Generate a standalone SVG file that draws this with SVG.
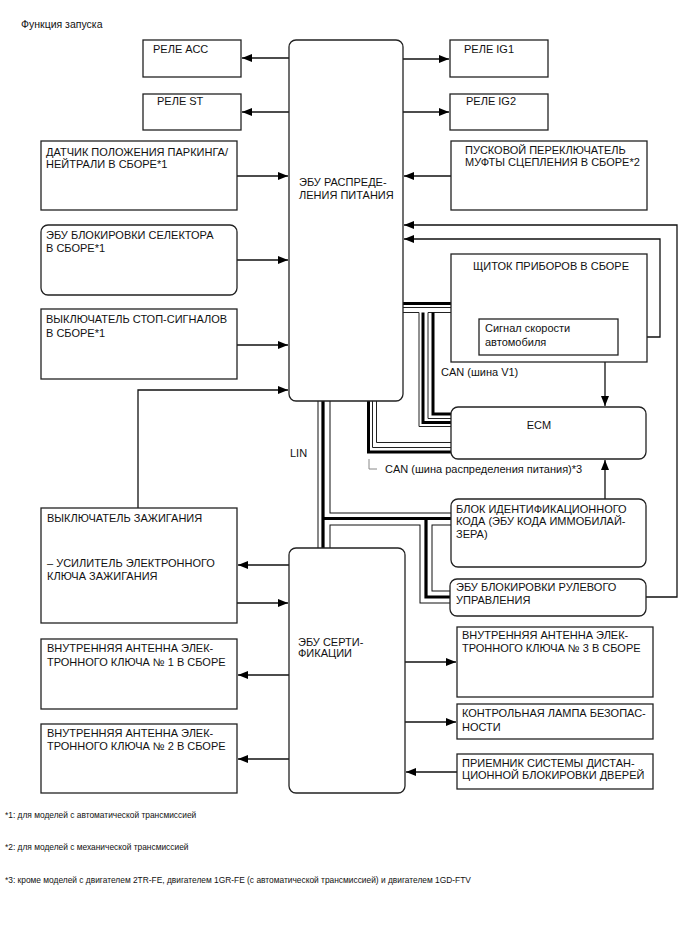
<svg xmlns="http://www.w3.org/2000/svg" width="688" height="949" viewBox="0 0 688 949">
<defs>
<style>
.bg{fill:#fff}
.box{fill:#fff;stroke:#222;stroke-width:1.3}
.t{font-family:"Liberation Sans",Arial,sans-serif;font-size:11px;fill:#111}
.h{font-family:"Liberation Sans",Arial,sans-serif;font-size:10.5px;fill:#111}
.s{font-family:"Liberation Sans",Arial,sans-serif;font-size:8.4px;fill:#111}
.w{fill:none;stroke:#111;stroke-width:1.3}
.bo{fill:none;stroke:#111;stroke-width:13}
.bw{fill:none;stroke:#fff;stroke-width:11}
.bc{fill:none;stroke:#000;stroke-width:3.2}
.tk{fill:none;stroke:#000;stroke-width:3}
.tn{fill:none;stroke:#222;stroke-width:1}
.ld{fill:none;stroke:#888;stroke-width:1}
</style>
<marker id="ah" viewBox="0 0 10 8" refX="10" refY="4" markerWidth="10" markerHeight="8" markerUnits="userSpaceOnUse" orient="auto"><path d="M0,0 L10,4 L0,8 z" fill="#000"/></marker>
</defs>
<rect class="bg" x="0" y="0" width="688" height="949"/>
<text class="h" x="21" y="28">Функция запуска</text>

<g id="connectors">
<g id="lin-bus">
<path class="bo" d="M324,395 V555 M324,519 H460 M426,519 V597 H460"/>
<path class="bw" d="M324,395 V555 M324,519 H460 M426,519 V597 H460"/>
<path class="bc" d="M323,395 V555 M323,518.5 H460 M426,518.5 V597 H460"/>
</g>
<g id="can-v1">
<path class="tk" d="M395,303.5 H460"/>
<path class="tn" d="M395,307.5 H460"/>
<path class="tn" d="M395,312.5 H419 V426.5 H460"/>
<path class="tn" d="M460,312.5 H428 V418.5 H460"/>
<path class="tk" d="M423,312.5 V422.5 H460"/>
<path class="tk" d="M433,312.5 V414 H460"/>
</g>
<g id="can-pd">
<path class="tk" d="M368.5,395 V452 H460"/>
<path class="tn" d="M372.5,395 V447.5 H460"/>
<path class="tn" d="M376.5,395 V442.5 H460"/>
</g>
<path class="ld" d="M369,459 V469 H377"/>
<g marker-end="url(#ah)">
<path class="w" d="M289,58 H242"/>
<path class="w" d="M289,112 H242"/>
<path class="w" d="M237,176 H288"/>
<path class="w" d="M237,260 H288"/>
<path class="w" d="M237,345 H288"/>
<path class="w" d="M138,508 V390 H288"/>
<path class="w" d="M403,59 H449"/>
<path class="w" d="M403,112 H449"/>
<path class="w" d="M451,176 H404"/>
<path class="w" d="M646,597 H677 V225 H404"/>
<path class="w" d="M618,337 H660 V239 H404"/>
<path class="w" d="M605,355 V406"/>
<path class="w" d="M605,499 V460"/>
<path class="w" d="M289,565 H238"/>
<path class="w" d="M237,603 H288"/>
<path class="w" d="M289,675 H238"/>
<path class="w" d="M289,759 H238"/>
<path class="w" d="M405,662 H456"/>
<path class="w" d="M405,722 H456"/>
<path class="w" d="M457,772 H406"/>
</g>
</g>

<g id="ecu-power">
<rect class="box" x="289" y="40" width="114" height="361" rx="7"/>
<text class="t" x="299" y="186">ЭБУ РАСПРЕДЕ-</text>
<text class="t" x="299" y="199">ЛЕНИЯ ПИТАНИЯ</text>
</g>
<g id="relay-acc">
<rect class="box" x="143" y="40" width="98" height="37"/>
<text class="t" x="153" y="53">РЕЛЕ АСС</text>
</g>
<g id="relay-st">
<rect class="box" x="143" y="94" width="98" height="36"/>
<text class="t" x="157" y="105">РЕЛЕ ST</text>
</g>
<g id="pn-sensor">
<rect class="box" x="41" y="141" width="196" height="69"/>
<text class="t" x="46" y="156">ДАТЧИК ПОЛОЖЕНИЯ ПАРКИНГА/</text>
<text class="t" x="46" y="168">НЕЙТРАЛИ В СБОРЕ*1</text>
</g>
<g id="shift-lock">
<rect class="box" x="41" y="225" width="196" height="70" rx="7"/>
<text class="t" x="46" y="239">ЭБУ БЛОКИРОВКИ СЕЛЕКТОРА</text>
<text class="t" x="46" y="252">В СБОРЕ*1</text>
</g>
<g id="stop-switch">
<rect class="box" x="41" y="309" width="196" height="70"/>
<text class="t" x="46" y="323">ВЫКЛЮЧАТЕЛЬ СТОП-СИГНАЛОВ</text>
<text class="t" x="46" y="337">В СБОРЕ*1</text>
</g>
<g id="relay-ig1">
<rect class="box" x="450" y="40" width="98" height="37"/>
<text class="t" x="464" y="53">РЕЛЕ IG1</text>
</g>
<g id="relay-ig2">
<rect class="box" x="450" y="94" width="98" height="36"/>
<text class="t" x="466" y="105">РЕЛЕ IG2</text>
</g>
<g id="clutch-switch">
<rect class="box" x="451" y="141" width="196" height="69"/>
<text class="t" x="465" y="154">ПУСКОВОЙ ПЕРЕКЛЮЧАТЕЛЬ</text>
<text class="t" x="465" y="166">МУФТЫ СЦЕПЛЕНИЯ В СБОРЕ*2</text>
</g>
<g id="meter">
<rect class="box" x="451" y="254" width="196" height="108"/>
<text class="t" x="551" y="270" text-anchor="middle">ЩИТОК ПРИБОРОВ В СБОРЕ</text>
</g>
<g id="speed-signal">
<rect class="box" x="479" y="319" width="139" height="36"/>
<text class="t" x="485" y="332">Сигнал скорости</text>
<text class="t" x="485" y="346">автомобиля</text>
</g>
<text class="t" x="441" y="376">CAN (шина V1)</text>
<g id="ecm">
<rect class="box" x="451" y="407" width="195" height="52" rx="7"/>
<text class="t" x="539" y="429" text-anchor="middle">ECM</text>
</g>
<text class="t" x="385" y="473">CAN (шина распределения питания)*3</text>
<text class="t" x="290" y="457">LIN</text>
<g id="immobilizer">
<rect class="box" x="451" y="499" width="195" height="68" rx="7"/>
<text class="t" x="456" y="513">БЛОК ИДЕНТИФИКАЦИОННОГО</text>
<text class="t" x="456" y="525">КОДА (ЭБУ КОДА ИММОБИЛАЙ-</text>
<text class="t" x="456" y="538">ЗЕРА)</text>
</g>
<g id="steering-lock">
<rect class="box" x="450" y="579" width="196" height="37" rx="7"/>
<text class="t" x="456" y="591">ЭБУ БЛОКИРОВКИ РУЛЕВОГО</text>
<text class="t" x="456" y="604">УПРАВЛЕНИЯ</text>
</g>
<g id="ignition">
<rect class="box" x="41" y="508" width="196" height="115"/>
<text class="t" x="47" y="522">ВЫКЛЮЧАТЕЛЬ ЗАЖИГАНИЯ</text>
<text class="t" x="47" y="567">– УСИЛИТЕЛЬ ЭЛЕКТРОННОГО</text>
<text class="t" x="47" y="580">КЛЮЧА ЗАЖИГАНИЯ</text>
</g>
<g id="ecu-cert">
<rect class="box" x="289" y="548" width="116" height="245" rx="7"/>
<text class="t" x="298" y="646">ЭБУ СЕРТИ-</text>
<text class="t" x="298" y="657">ФИКАЦИИ</text>
</g>
<g id="antenna1">
<rect class="box" x="41" y="639" width="196" height="70"/>
<text class="t" x="47" y="652">ВНУТРЕННЯЯ АНТЕННА ЭЛЕК-</text>
<text class="t" x="47" y="666">ТРОННОГО КЛЮЧА № 1 В СБОРЕ</text>
</g>
<g id="antenna2">
<rect class="box" x="41" y="724" width="196" height="69"/>
<text class="t" x="47" y="737">ВНУТРЕННЯЯ АНТЕННА ЭЛЕК-</text>
<text class="t" x="47" y="750">ТРОННОГО КЛЮЧА № 2 В СБОРЕ</text>
</g>
<g id="antenna3">
<rect class="box" x="457" y="627" width="196" height="70"/>
<text class="t" x="462" y="639">ВНУТРЕННЯЯ АНТЕННА ЭЛЕК-</text>
<text class="t" x="462" y="652">ТРОННОГО КЛЮЧА № 3 В СБОРЕ</text>
</g>
<g id="security-lamp">
<rect class="box" x="457" y="704" width="196" height="35"/>
<text class="t" x="462" y="717">КОНТРОЛЬНАЯ ЛАМПА БЕЗОПАС-</text>
<text class="t" x="462" y="731">НОСТИ</text>
</g>
<g id="door-receiver">
<rect class="box" x="457" y="754" width="196" height="35"/>
<text class="t" x="462" y="767">ПРИЕМНИК СИСТЕМЫ ДИСТАН-</text>
<text class="t" x="462" y="779">ЦИОННОЙ БЛОКИРОВКИ ДВЕРЕЙ</text>
</g>
<text class="s" x="5" y="818">*1: для моделей с автоматической трансмиссией</text>
<text class="s" x="5" y="850">*2: для моделей с механической трансмиссией</text>
<text class="s" x="5" y="883">*3: кроме моделей с двигателем 2TR-FE, двигателем 1GR-FE (с автоматической трансмиссией) и двигателем 1GD-FTV</text>
</svg>
